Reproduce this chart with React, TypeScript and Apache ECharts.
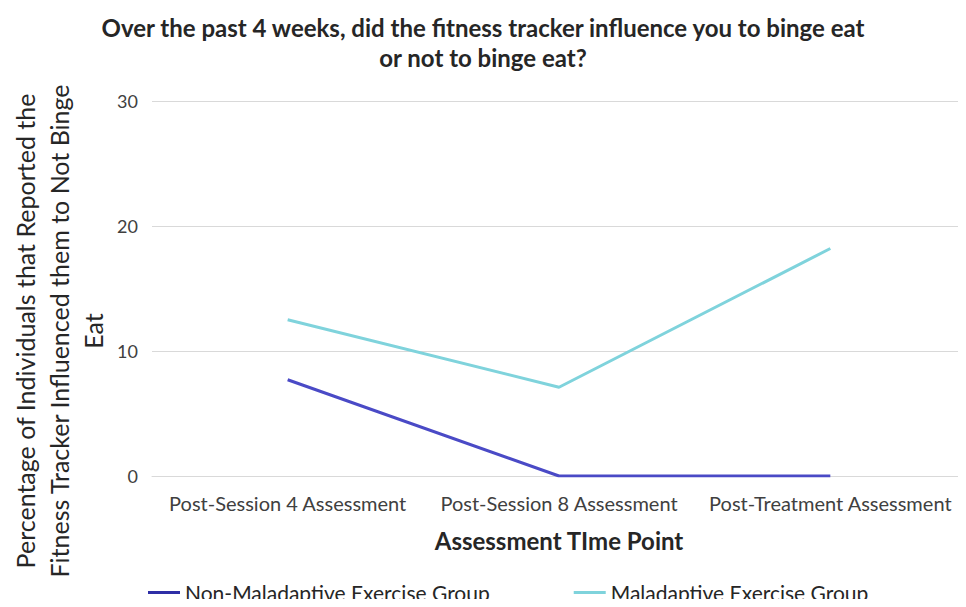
import React, { useEffect, useRef } from "react";
import * as echarts from "echarts";

const categories = ["Post-Session 4 Assessment", "Post-Session 8 Assessment", "Post-Treatment Assessment"];
const nonMaladaptive = [7.7, 0, 0];
const maladaptive = [12.5, 7.1, 18.2];
const seriesNames = ["Non-Maladaptive Exercise Group", "Maladaptive Exercise Group"];
const yTicks = { min: 0, max: 30, interval: 10 };

const FONT = "Lato";

export default function App() {
  const ref = useRef<HTMLDivElement>(null);
  useEffect(() => {
    if (!ref.current) return;
    const chart = echarts.init(ref.current, undefined, { renderer: "svg" });
    chart.setOption({
      animation: false,
      title: {
        text: "Over the past 4 weeks, did the fitness tracker influence you to binge eat\nor not to binge eat?",
        left: "center",
        top: 7,
        textStyle: { fontFamily: FONT, fontSize: 24, fontWeight: "bold", color: "#262626", lineHeight: 30 },
      },
      legend: {
        left: 148,
        top: 582,
        padding: 0,
        itemWidth: 32,
        itemHeight: 3,
        itemGap: 84,
        icon: "rect",
        textStyle: { fontFamily: FONT, fontSize: 21, color: "#262626", lineHeight: 20 },
        data: seriesNames,
      },
      grid: { left: 152, right: 0, top: 101, bottom: 131, containLabel: false },
      xAxis: {
        type: "category",
        data: categories,
        boundaryGap: true,
        axisLine: { lineStyle: { color: "#d9d9d9" } },
        axisTick: { show: false },
        axisLabel: { fontFamily: FONT, fontSize: 20, color: "#404040", margin: 17, interval: 0 },
        name: "Assessment TIme Point",
        nameLocation: "middle",
        nameGap: 52,
        nameTextStyle: { fontFamily: FONT, fontSize: 24, fontWeight: "bold", color: "#262626" },
      },
      yAxis: {
        type: "value",
        min: yTicks.min,
        max: yTicks.max,
        interval: yTicks.interval,
        axisLine: { show: false },
        axisTick: { show: false },
        splitLine: { lineStyle: { color: "#d9d9d9" } },
        axisLabel: { fontFamily: FONT, fontSize: 18, color: "#404040", margin: 14 },
      },
      graphic: [
        {
          type: "text",
          x: 59,
          y: 331,
          rotation: Math.PI / 2,
          style: {
            text: "Percentage of Individuals that Reported the\nFitness Tracker Influenced them to Not Binge\nEat",
            fontFamily: FONT,
            fontSize: 25,
            lineHeight: 34,
            fill: "#262626",
            align: "center",
            verticalAlign: "middle",
          },
        },
      ],
      series: [
        {
          name: seriesNames[0],
          type: "line",
          data: nonMaladaptive,
          symbol: "none",
          lineStyle: { color: "#4a4ac6", width: 3 },
          itemStyle: { color: "#2e2ea6" },
        },
        {
          name: seriesNames[1],
          type: "line",
          data: maladaptive,
          symbol: "none",
          lineStyle: { color: "#7fd3dc", width: 3 },
          itemStyle: { color: "#7fd3dc" },
        },
      ],
    });
    return () => chart.dispose();
  }, []);
  return <div ref={ref} style={{ width: 966, height: 607, margin: -8 }} />;
}
